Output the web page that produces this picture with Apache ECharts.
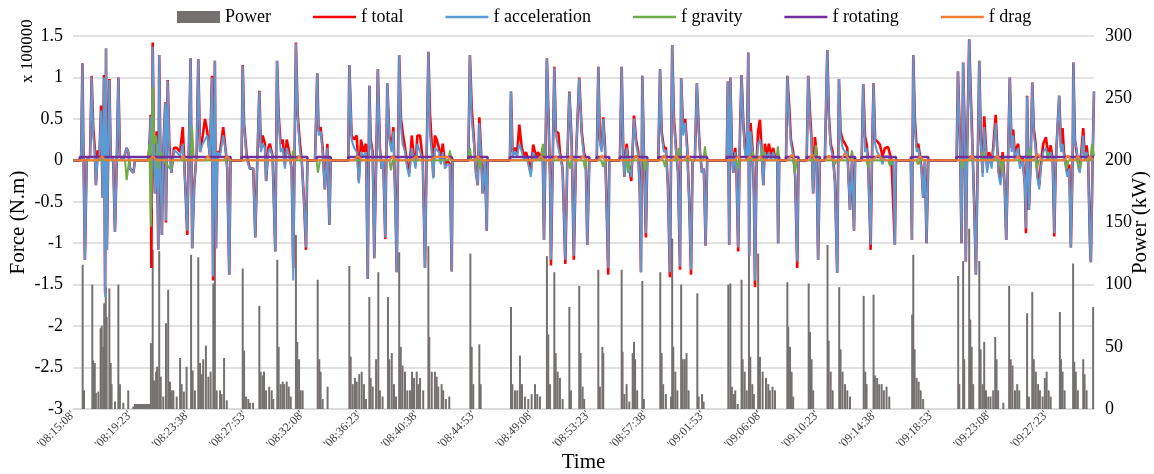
<!DOCTYPE html>
<html><head><meta charset="utf-8">
<script src="https://cdn.jsdelivr.net/npm/echarts@6/dist/echarts.min.js"></script>
<style>html,body{margin:0;padding:0;background:#fff}#c{width:1154px;height:474px}</style>
</head><body><div id="c"></div>
<script>
// time in seconds since 08:15:08
const xLabels = ["'08:15:08'","'08:19:23'","'08:23:38'","'08:27:53'","'08:32:08'","'08:36:23'","'08:40:38'","'08:44:53'","'08:49:08'","'08:53:23'","'08:57:38'","'09:01:53'","'09:06:08'","'09:10:23'","'09:14:38'","'09:18:53'","'09:23:08'","'09:27:23'"];
const legendNames = ['Power','f total','f acceleration','f gravity','f rotating','f drag'];

// Power (kW)
const power = [[43,116],[49,15],[86,100],[90,39],[97,37],[102,13],[113,14],[123,65],[128,67],[135,50],[139,85],[146,98],[150,74],[162,97],[168,37],[172,20],[187,6],[202,100],[209,20],[224,5],[246,15],[269,2],
[276,4],[280,4],[284,4],[288,4],[292,4],[296,4],[300,4],[304,4],[308,4],[312,4],[316,4],[320,4],[324,4],[328,4],[332,4],[336,4],[340,4],
[347,53],[355,128],[361,23],[370,30],[375,34],[384,127],[391,26],[402,10],[414,69],[424,96],[432,22],[440,15],[447,15],[462,10],[477,41],[484,20],[494,14],[506,34],[526,124],[533,31],[543,15],[558,122],[566,37],[573,28],[580,40],[592,51],[603,26],[613,30],[625,101],[632,130],[640,15],[655,15],[662,12],[673,41],[685,7],
[756,113],[762,47],[771,10],[781,8],[788,5],[802,5],[830,83],[836,30],[845,27],[851,30],[860,15],[874,18],[885,15],[892,8],[910,120],[916,50],[925,20],[934,22],[941,20],[952,22],[961,18],[970,10],[993,140],[999,54],[1007,40],[1014,15],[1023,15],
[1090,104],[1097,40],[1103,30],[1112,8],[1134,18],
[1231,115],[1237,42],[1246,20],[1256,25],[1264,22],[1275,28],[1286,30],[1296,20],[1305,8],[1320,90],[1326,25],[1335,18],[1350,40],[1360,110],[1367,15],[1379,10],[1403,90],[1409,40],[1420,45],[1430,20],[1439,10],[1453,126],[1460,50],[1468,35],[1479,30],[1489,15],[1501,15],[1510,30],[1519,25],[1531,30],[1538,20],[1546,25],[1560,15],
[1583,131],[1587,58],[1598,30],[1612,30],[1620,26],[1627,18],[1642,20],[1649,15],[1661,8],[1676,10],
[1770,125],[1776,50],[1783,20],[1810,52],[1816,20],
[1951,82],[1957,20],[1969,15],[1979,15],[1991,43],[2000,20],[2013,10],[2028,8],[2043,12],[2058,20],[2068,12],[2080,10],[2111,123],[2117,60],[2125,20],[2144,110],[2150,45],[2159,30],[2169,25],[2181,8],[2211,82],[2218,15],[2255,99],[2261,45],[2270,18],[2277,8],
[2340,112],[2347,18],[2358,50],[2362,45],
[2444,112],[2448,46],[2456,12],[2466,20],[2478,6],[2493,45],[2499,54],[2504,40],[2513,15],[2536,103],[2543,8],
[2616,110],[2622,45],[2629,20],[2641,12],[2664,10],[2669,137],[2674,50],[2683,30],[2692,15],[2709,100],[2716,40],[2725,40],[2733,45],[2742,15],[2781,93],[2787,10],[2802,12],[2809,6],
[2919,100],[2928,101],[2935,18],[2944,12],[2950,15],[2961,4],[2978,104],[2983,40],[2992,30],[3001,15],[3011,125],[3017,42],[3026,20],[3033,12],[3052,125],[3060,42],[3072,30],[3087,25],[3097,20],[3104,15],[3116,18],[3127,15],
[3182,102],[3186,66],[3194,50],[3201,30],[3208,10],[3277,101],[3283,62],[3290,40],[3297,15],[3361,132],[3366,55],[3375,30],[3384,15],[3413,98],[3419,48],[3428,30],[3439,20],[3449,15],[3461,10],[3522,91],[3529,30],[3535,20],[3566,92],[3572,27],[3582,25],[3591,20],[3602,20],[3612,15],[3624,18],[3636,10],
[3738,76],[3743,124],[3749,48],[3758,25],[3767,22],[3776,15],[3787,8],
[3943,107],[3948,20],[3965,119],[3970,40],[3992,145],[3997,72],[4003,50],[4010,20],[4037,119],[4043,48],[4052,20],[4059,54],[4067,15],[4077,10],[4087,10],[4099,15],[4108,58],[4114,40],[4121,15],[4144,5],[4170,99],[4177,40],[4185,35],[4196,15],[4206,20],[4215,15],[4250,77],[4258,10],[4273,94],[4280,40],[4289,30],[4299,20],[4307,15],[4319,10],[4329,25],[4337,30],[4346,15],[4355,10],[4396,78],[4401,40],[4408,30],[4417,15],[4455,117],[4460,38],[4467,30],[4476,15],[4500,40],[4506,28],[4515,15],[4544,82]];

// f total (x 100000 N.m)
const fTotal = [[0,0],[36,0],[42,1.17],[46,0.25],[53,-1.2],[61,0],[76,0.05],[83,1.02],[90,0.4],[97,0.15],[102,-0.3],[110,0.12],[117,0],[125,0.66],[129,0],[132,-0.45],[138,1.03],[143,-1.6],[147,1.35],[151,-1.08],[157,0.1],[162,0.98],[168,0.05],[179,0],[187,-0.86],[195,0],[202,1.0],[209,0.05],[224,0],[239,0.15],[246,0.1],[254,-0.1],[269,-0.15],[276,0],[335,0],[340,0.15],[346,0.55],[349,-1.3],[355,1.42],[361,0.1],[365,-0.4],[373,0.35],[380,-1.08],[384,1.27],[391,-0.3],[396,-0.9],[402,0.1],[411,0.7],[414,-0.75],[422,0.97],[429,0.2],[438,-0.15],[450,0.15],[462,0.15],[477,0.1],[489,0.4],[500,-0.3],[509,-0.9],[515,0],[524,1.23],[531,-1.06],[540,-0.3],[551,0.1],[558,1.22],[566,0.1],[578,0.3],[588,0.5],[598,0.35],[610,0.05],[619,1.02],[624,-1.45],[632,1.2],[637,-1.06],[643,0.1],[655,0.1],[669,0.4],[681,0.1],[687,-0.1],[696,-1.38],[702,0],[751,0],[756,1.15],[762,0.45],[774,0.05],[788,-0.1],[803,-0.1],[812,-0.93],[821,0],[830,0.84],[837,0.15],[845,0.3],[855,0.2],[860,-0.25],[870,0.15],[877,0.2],[889,0.05],[901,-1.1],[909,1.2],[916,0.55],[925,0.2],[934,0.25],[944,-0.05],[952,0.25],[963,0.1],[974,-0.1],[981,-1.3],[993,1.42],[1001,0.55],[1011,0.2],[1019,0],[1029,-0.5],[1038,-1.08],[1044,0],[1078,0],[1088,1.05],[1094,0.35],[1103,0.4],[1112,0.15],[1122,-0.35],[1133,0.2],[1142,-0.78],[1148,0],[1226,0],[1231,1.15],[1241,0.3],[1252,0.25],[1264,0.3],[1273,-0.25],[1283,0.25],[1293,0.1],[1305,0.2],[1313,-1.43],[1320,0.9],[1326,0.25],[1335,0.1],[1342,-1.18],[1353,0.35],[1358,1.1],[1367,0.15],[1375,-0.1],[1382,0],[1391,-0.95],[1400,0.93],[1409,0.3],[1419,0.15],[1427,0.4],[1436,-0.5],[1442,-1.35],[1453,1.27],[1461,0.5],[1468,0.35],[1479,0.15],[1489,-0.05],[1498,-0.15],[1509,0.3],[1516,0.1],[1526,-0.05],[1534,0.3],[1546,0.3],[1558,0],[1568,-1.3],[1575,0],[1583,1.31],[1590,0.57],[1598,0.2],[1605,-0.2],[1612,0.3],[1620,0.25],[1630,0.15],[1638,0],[1647,0.2],[1657,-0.05],[1667,0],[1679,-0.05],[1687,-1.34],[1691,0],[1761,0],[1768,1.27],[1776,0.64],[1786,0.25],[1795,-0.15],[1803,-0.3],[1810,0.52],[1817,0.15],[1825,-0.4],[1835,0],[1843,-0.85],[1847,0],[1946,0],[1951,0.83],[1958,0.1],[1969,0.15],[1979,0.1],[1988,0.43],[1999,0.15],[2009,0.05],[2018,0.1],[2028,0],[2039,-0.15],[2050,0.19],[2062,0.05],[2072,0.1],[2083,0],[2092,0.15],[2098,-0.96],[2104,0],[2111,1.23],[2119,0.45],[2125,-0.2],[2129,-1.27],[2137,0],[2144,1.13],[2151,0.35],[2162,0.33],[2169,0.1],[2181,-0.1],[2193,-1.25],[2202,0],[2211,0.83],[2221,0.25],[2231,-1.2],[2240,0],[2255,1.0],[2266,0.35],[2276,0.1],[2284,0],[2291,-1.02],[2300,0],[2333,0],[2340,1.13],[2347,0.25],[2355,0.15],[2362,0.52],[2370,0.15],[2377,-0.55],[2384,-1.38],[2389,0],[2436,0],[2444,1.13],[2451,0.15],[2456,-0.2],[2466,0.2],[2478,-0.1],[2487,-0.25],[2499,0.54],[2508,0.25],[2518,0.1],[2525,-0.4],[2530,-1.35],[2536,1.02],[2543,0.1],[2552,-0.93],[2558,0],[2607,0],[2615,1.1],[2622,0.35],[2632,0.15],[2641,0.15],[2650,-0.3],[2659,-1.41],[2669,1.39],[2677,0.51],[2686,0.15],[2695,-0.15],[2704,-1.32],[2709,0.99],[2718,0.35],[2727,0.5],[2736,0.15],[2745,-0.5],[2753,-1.38],[2760,0],[2770,0],[2779,0.93],[2787,0.4],[2793,0.1],[2802,-0.15],[2810,-0.1],[2818,-1.03],[2825,0],[2912,0],[2917,0.95],[2923,-1.02],[2928,1.0],[2935,0.15],[2941,-0.15],[2950,0.15],[2956,-0.2],[2963,-1.1],[2971,0.35],[2978,1.03],[2986,0.45],[2993,0.15],[3001,0],[3008,1.3],[3012,-1.15],[3018,0.45],[3027,0.15],[3033,-0.4],[3038,-1.53],[3045,0],[3052,0.35],[3060,0.49],[3067,0.15],[3075,-0.3],[3082,0.2],[3090,0.05],[3100,0.2],[3109,0.05],[3119,0.15],[3130,0],[3137,0.05],[3141,-1.0],[3146,0],[3176,0],[3182,1.02],[3190,0.66],[3198,0.25],[3208,0.1],[3217,-0.2],[3226,-1.3],[3232,0],[3268,0],[3275,1.02],[3283,0.57],[3290,0.25],[3297,-0.4],[3305,0.28],[3312,0.1],[3319,-1.2],[3327,0],[3349,0],[3360,1.33],[3367,0.55],[3375,0.2],[3384,0.1],[3394,-0.25],[3404,-1.36],[3412,0.98],[3419,0.35],[3428,0.25],[3439,0.2],[3449,0.15],[3461,-0.6],[3470,0],[3479,-0.85],[3484,0],[3513,0],[3520,0.92],[3528,0.29],[3535,0.2],[3542,0],[3553,-1.08],[3559,0],[3566,0.93],[3573,0.25],[3582,0.23],[3594,0.19],[3606,0.05],[3617,0.15],[3631,0.16],[3646,0],[3654,0],[3661,-1.02],[3666,0],[3732,0],[3737,-0.96],[3743,1.27],[3750,0.5],[3758,0.15],[3765,0.2],[3773,0.05],[3780,-0.1],[3787,-0.45],[3795,0],[3802,-1.0],[3810,0],[3936,0],[3942,1.07],[3951,0.25],[3958,-1.0],[3965,1.18],[3972,0.35],[3977,-1.22],[3983,0.15],[3992,1.46],[4000,0.72],[4007,0.15],[4014,-0.5],[4022,-1.38],[4030,0],[4037,1.2],[4044,0.25],[4052,-0.15],[4059,0.53],[4067,0.15],[4072,-0.1],[4081,0.1],[4092,-0.05],[4099,0.15],[4110,0.55],[4117,0.15],[4124,-0.15],[4132,-0.25],[4141,0.1],[4150,-0.3],[4157,-0.96],[4165,0],[4173,1.0],[4181,0.15],[4188,0.37],[4196,0.05],[4203,0.15],[4210,0.2],[4218,-0.05],[4230,0.05],[4240,-0.3],[4245,-0.88],[4250,0.78],[4258,-0.6],[4266,0],[4273,0.94],[4280,0.37],[4288,0.2],[4295,-0.15],[4304,-0.3],[4311,-0.05],[4322,0.2],[4334,0.28],[4344,0.05],[4355,0.18],[4364,0],[4371,-0.92],[4378,0],[4393,0.78],[4401,0.15],[4408,0.39],[4414,0.1],[4423,-0.05],[4429,-0.15],[4438,-0.05],[4445,-1.05],[4453,0],[4456,1.18],[4463,0.25],[4471,0.25],[4478,-0.05],[4485,-0.1],[4493,0.15],[4500,0.39],[4507,0.05],[4515,0.18],[4522,0],[4530,-1.0],[4534,-1.23],[4542,0],[4548,0.83]];

// f acceleration
const fAcc = [[0,0],[36,0],[42,1.17],[46,0.2],[53,-1.2],[61,0],[76,0.05],[83,1.01],[90,0.3],[97,0.1],[102,-0.3],[110,0.05],[117,0],[125,0.6],[129,0],[132,-0.45],[138,1.0],[143,-1.65],[147,1.35],[151,-1.08],[157,0.1],[162,0.97],[168,0.05],[179,0],[187,-0.86],[195,0],[202,1.0],[209,0.05],[224,0],[239,0.15],[246,0.1],[254,-0.1],[269,-0.15],[276,0],[335,0],[340,0.1],[346,0.53],[349,-0.6],[355,1.37],[361,0.1],[365,-0.4],[373,0.2],[380,-1.08],[384,1.27],[391,-0.3],[396,-0.9],[402,0.1],[411,0.69],[414,-0.73],[422,0.96],[429,0.1],[438,-0.15],[450,0.12],[462,0.1],[477,0.05],[489,0.2],[500,-0.3],[509,-0.85],[515,0],[524,1.23],[531,-1.06],[540,-0.3],[551,0.1],[558,1.22],[566,0.1],[578,0.2],[588,0.25],[598,0.3],[610,0.05],[619,1.0],[624,-1.4],[632,1.2],[637,-1.06],[643,0.1],[655,0.05],[669,0.3],[681,0.1],[687,-0.1],[696,-1.38],[702,0],[751,0],[756,1.14],[762,0.4],[774,0],[788,-0.1],[803,-0.1],[812,-0.93],[821,0],[830,0.83],[837,0.1],[845,0.2],[855,0.15],[860,-0.25],[870,0.1],[877,0.15],[889,0.05],[901,-1.1],[909,1.2],[916,0.5],[925,0.1],[934,0.15],[944,-0.1],[952,0.15],[963,0.05],[974,-0.1],[981,-1.45],[993,1.41],[1001,0.5],[1011,0.1],[1019,0],[1029,-0.5],[1038,-1.05],[1044,0],[1078,0],[1088,1.05],[1094,0.3],[1103,0.35],[1112,0.1],[1122,-0.35],[1133,0.15],[1142,-0.78],[1148,0],[1226,0],[1231,1.15],[1241,0.25],[1252,0.15],[1264,0.1],[1273,-0.28],[1283,0.1],[1293,0.05],[1305,0.1],[1313,-1.43],[1320,0.9],[1326,0.2],[1335,0.05],[1342,-1.18],[1353,0.3],[1358,1.1],[1367,0.1],[1375,-0.1],[1382,0],[1391,-0.93],[1400,0.93],[1409,0.25],[1419,0.1],[1427,0.35],[1436,-0.5],[1442,-1.35],[1453,1.27],[1461,0.4],[1468,0.2],[1479,0.1],[1489,-0.1],[1498,-0.2],[1509,0.15],[1516,0.05],[1526,-0.1],[1534,0.2],[1546,0.1],[1558,0],[1568,-1.3],[1575,0],[1583,1.31],[1590,0.3],[1598,0.1],[1605,-0.22],[1612,0.15],[1620,0.15],[1630,0.1],[1638,-0.05],[1647,0.1],[1657,-0.1],[1667,-0.05],[1679,-0.05],[1687,-1.34],[1691,0],[1761,0],[1768,1.27],[1776,0.5],[1786,0.2],[1795,-0.15],[1803,-0.3],[1810,0.45],[1817,0.1],[1825,-0.4],[1835,0],[1843,-0.85],[1847,0],[1946,0],[1951,0.83],[1958,0.05],[1969,0.1],[1979,0.05],[1988,0.2],[1999,0.1],[2009,0],[2018,0.05],[2028,-0.05],[2039,-0.2],[2050,0.1],[2062,0],[2072,0.05],[2083,0],[2092,0.12],[2098,-0.96],[2104,0],[2111,1.23],[2119,0.4],[2125,-0.2],[2129,-1.2],[2137,0],[2144,1.12],[2151,0.3],[2162,0.15],[2169,0.05],[2181,-0.1],[2193,-1.2],[2202,0],[2211,0.82],[2221,0.2],[2231,-1.15],[2240,0],[2255,0.99],[2266,0.3],[2276,0.05],[2284,0],[2291,-1.02],[2300,0],[2333,0],[2340,1.13],[2347,0.2],[2355,0.1],[2362,0.5],[2370,0.1],[2377,-0.55],[2384,-1.3],[2389,0],[2436,0],[2444,1.13],[2451,0.1],[2456,-0.2],[2466,0.15],[2478,-0.1],[2487,-0.2],[2499,0.5],[2508,0.2],[2518,0.05],[2525,-0.4],[2530,-1.35],[2536,1.02],[2543,0.1],[2552,-0.88],[2558,0],[2607,0],[2615,1.1],[2622,0.3],[2632,0.1],[2641,0.12],[2650,-0.3],[2659,-1.35],[2669,1.39],[2677,0.45],[2686,0.1],[2695,-0.15],[2704,-1.28],[2709,0.99],[2718,0.3],[2727,0.45],[2736,0.1],[2745,-0.5],[2753,-1.32],[2760,0],[2770,0],[2779,0.93],[2787,0.35],[2793,0.1],[2802,-0.15],[2810,-0.1],[2818,-1.03],[2825,0],[2912,0],[2917,0.95],[2923,-1.02],[2928,1.0],[2935,0.1],[2941,-0.15],[2950,0.1],[2956,-0.2],[2963,-1.05],[2971,0.3],[2978,1.03],[2986,0.4],[2993,0.1],[3001,0],[3008,1.3],[3012,-1.15],[3018,0.35],[3027,0.1],[3033,-0.4],[3038,-1.45],[3045,0],[3052,0.2],[3060,0.25],[3067,0.1],[3075,-0.3],[3082,0.1],[3090,0],[3100,0.1],[3109,0],[3119,0.1],[3130,0],[3137,0.05],[3141,-1.0],[3146,0],[3176,0],[3182,1.02],[3190,0.55],[3198,0.2],[3208,0.05],[3217,-0.2],[3226,-1.22],[3232,0],[3268,0],[3275,1.02],[3283,0.45],[3290,0.2],[3297,-0.4],[3305,0.1],[3312,0.05],[3319,-1.2],[3327,0],[3349,0],[3360,1.33],[3367,0.5],[3375,0.15],[3384,0.05],[3394,-0.25],[3404,-1.36],[3412,0.98],[3419,0.3],[3428,0.15],[3439,0.1],[3449,0.1],[3461,-0.6],[3470,0],[3479,-0.85],[3484,0],[3513,0],[3520,0.92],[3528,0.1],[3535,0.15],[3542,-0.05],[3553,-1.02],[3559,0],[3566,0.93],[3573,0.2],[3582,0.1],[3594,0.05],[3606,-0.05],[3617,0.05],[3631,0.05],[3646,-0.05],[3654,0],[3661,-1.02],[3666,0],[3732,0],[3737,-0.96],[3743,1.27],[3750,0.4],[3758,0.1],[3765,0.15],[3773,0],[3780,-0.1],[3787,-0.45],[3795,0],[3802,-1.0],[3810,0],[3936,0],[3942,1.07],[3951,0.2],[3958,-1.0],[3965,1.18],[3972,0.3],[3977,-1.22],[3983,0.1],[3992,1.46],[4000,0.6],[4007,0.1],[4014,-0.5],[4022,-1.38],[4030,0],[4037,1.2],[4044,0.2],[4052,-0.2],[4059,0.4],[4067,0.1],[4072,-0.15],[4081,0.05],[4092,-0.1],[4099,0.1],[4110,0.45],[4117,0.1],[4124,-0.2],[4132,-0.3],[4141,0],[4150,-0.3],[4157,-0.96],[4165,0],[4173,1.0],[4181,0.1],[4188,0.3],[4196,0],[4203,0.1],[4210,0.15],[4218,-0.1],[4230,0],[4240,-0.3],[4245,-0.82],[4250,0.77],[4258,-0.6],[4266,0],[4273,0.94],[4280,0.3],[4288,0.15],[4295,-0.2],[4304,-0.35],[4311,-0.1],[4322,0.1],[4334,0.15],[4344,0],[4355,0.1],[4364,0],[4371,-0.88],[4378,0],[4393,0.78],[4401,0.1],[4408,0.2],[4414,0.05],[4423,-0.1],[4429,-0.2],[4438,-0.1],[4445,-1.05],[4453,0],[4456,1.18],[4463,0.2],[4471,0.15],[4478,-0.1],[4485,-0.15],[4493,0.1],[4500,0.3],[4507,0],[4515,0.1],[4522,-0.05],[4530,-1.0],[4534,-1.23],[4542,0],[4548,0.83]];

// f gravity
const fGravity = [[0,0],[232,0],[239,-0.24],[250,0],[335,0],[340,0.2],[347,-0.8],[355,0.88],[361,0.2],[370,0.3],[379,-0.1],[392,0.1],[405,0],[432,-0.1],[445,0],[525,0],[530,0.42],[537,0.05],[560,0],[975,0],[980,0.12],[988,0],[1085,0],[1091,-0.15],[1100,0],[1410,0],[1416,-0.12],[1424,0],[1672,0],[1679,0.12],[1686,0],[1762,0],[1768,0.15],[1775,0],[1806,0],[1813,-0.1],[1820,0],[2086,0],[2093,0.2],[2100,0],[2207,0],[2214,-0.1],[2221,0],[2274,0],[2280,-0.1],[2287,0],[2354,0],[2361,-0.08],[2368,0],[2465,0],[2472,-0.15],[2480,0],[2541,0],[2548,-0.12],[2555,0],[2630,0],[2637,-0.08],[2645,0],[2692,0],[2699,0.15],[2707,0],[2808,0],[2815,0.17],[2822,0],[2955,0],[2962,-0.1],[2969,0],[3022,0],[3029,0.1],[3036,0],[3066,0],[3073,0.15],[3080,0],[3133,0],[3140,0.17],[3146,0],[3209,0],[3216,-0.15],[3224,0],[3302,0],[3309,0.18],[3316,0],[3387,0],[3394,-0.05],[3401,0],[3463,0],[3470,0.12],[3477,0],[3534,0],[3541,-0.08],[3548,0],[3632,0],[3639,-0.07],[3646,0],[3757,0],[3764,-0.05],[3771,0],[3957,0],[3964,-0.1],[3971,0],[4046,0],[4053,0.1],[4060,0],[4131,0],[4138,-0.15],[4145,0],[4256,0],[4263,0.15],[4270,0],[4287,0],[4294,-0.1],[4301,0],[4336,0],[4343,0.1],[4350,0],[4420,0],[4427,-0.1],[4434,0],[4478,0],[4485,-0.1],[4492,0],[4532,0],[4539,0.2],[4548,0.05]];

// f rotating
const fRotating = [[0,0],[30,0],[30,0.04],[702,0.04],[702,0],[751,0],[751,0.04],[1044,0.04],[1044,0],[1085,0],[1085,0.04],[1148,0.04],[1148,0],[1226,0],[1226,0.04],[1687,0.04],[1691,0],[1761,0],[1761,0.04],[1847,0.04],[1847,0],[1946,0],[1946,0.04],[2300,0.04],[2300,0],[2333,0],[2333,0.04],[2389,0.04],[2389,0],[2436,0],[2436,0.04],[2558,0.04],[2558,0],[2607,0],[2607,0.04],[2825,0.04],[2825,0],[2912,0],[2912,0.04],[3146,0.04],[3146,0],[3176,0],[3176,0.04],[3232,0.04],[3232,0],[3268,0],[3268,0.04],[3327,0.04],[3327,0],[3349,0],[3349,0.04],[3484,0.04],[3484,0],[3513,0],[3513,0.04],[3666,0.04],[3666,0],[3732,0],[3732,0.04],[3810,0.04],[3810,0],[3936,0],[3936,0.04],[4548,0.04]];

// f drag
const fDrag = [[0,0],[114,0],[129,0.05],[144,0],[341,0],[356,0.05],[371,0],[475,0],[490,0.05],[505,0],[586,0],[601,0.05],[616,0],[671,0],[686,0.05],[701,0],[992,0],[1007,0.05],[1022,0],[1250,0],[1269,0.05],[1290,0],[1410,0],[1425,0.05],[1440,0],[1510,0],[1528,0.05],[1546,0],[1590,0],[1610,0.04],[1670,0.04],[1687,0],[1789,0],[1804,0.05],[1819,0],[2069,0],[2084,0.05],[2099,0],[2136,0],[2151,0.05],[2166,0],[2203,0],[2218,0.05],[2233,0],[2256,0],[2271,0.05],[2286,0],[2341,0],[2356,0.06],[2371,0],[2493,0],[2508,0.06],[2523,0],[2617,0],[2632,0.06],[2647,0],[2671,0],[2686,0.06],[2701,0],[2724,0],[2739,0.06],[2754,0],[2947,0],[2962,0.05],[2977,0],[3000,0],[3015,0.05],[3030,0],[3045,0],[3060,0.05],[3075,0],[3187,0],[3202,0.07],[3217,0],[3277,0],[3292,0.07],[3307,0],[3352,0],[3367,0.06],[3382,0],[3420,0],[3439,0.09],[3458,0],[3560,0],[3586,0.06],[3612,0],[3758,0],[3773,0.05],[3788,0],[3989,0],[4004,0.06],[4019,0],[4101,0],[4116,0.06],[4131,0],[4194,0],[4209,0.05],[4224,0],[4280,0],[4298,0.08],[4316,0],[4417,0],[4432,0.06],[4447,0],[4461,0],[4476,0.05],[4491,0],[4515,0],[4530,0.05],[4545,0],[4548,0]];

const FONT = 'Liberation Serif, Times New Roman, serif';
const LINE_ICON = 'path://M0,0H43V2.4H0Z';
const chart = echarts.init(document.getElementById('c'), null, {renderer:'canvas'});
const lineS = (name, data, color, w) => ({
  name, type:'line', data, yAxisIndex:0, symbol:'none', showSymbol:false,
  lineStyle:{color, width:w}, itemStyle:{color}, animation:false
});
chart.setOption({
  animation:false,
  backgroundColor:'#fff',
  textStyle:{fontFamily:FONT},
  legend:{
    top:3, left:172, itemGap:42, itemWidth:43, itemHeight:12, symbolKeepAspect:true,
    textStyle:{fontFamily:FONT, fontSize:18, color:'#000'},
    data:[{name:legendNames[0], icon:'rect'},
      {name:legendNames[1], icon:LINE_ICON},{name:legendNames[2], icon:LINE_ICON},
      {name:legendNames[3], icon:LINE_ICON},{name:legendNames[4], icon:LINE_ICON},
      {name:legendNames[5], icon:LINE_ICON}]
  },
  grid:{left:73, right:60, top:36, bottom:65, outerBoundsMode:'none', containLabel:false},
  graphic:[{type:'text', x:28, y:51, rotation:Math.PI/2,
    style:{text:'x 100000', font:'17px '+FONT, fill:'#000', textAlign:'center', textVerticalAlign:'middle'}}],
  xAxis:{
    type:'value', min:0, max:4548, interval:255,
    name:'Time', nameLocation:'middle', nameGap:43, nameMoveOverlap:false,
    nameTextStyle:{fontFamily:FONT, fontSize:21, color:'#000'},
    axisLine:{onZero:false, lineStyle:{color:'#D9D9D9', width:1.5}},
    axisTick:{show:false}, splitLine:{show:false},
    axisLabel:{rotate:45, margin:4, fontSize:12, color:'#404040', fontFamily:FONT, showMaxLabel:true,
      formatter:v => (v % 255 === 0 && xLabels[v/255] !== undefined) ? xLabels[v/255] : ''}
  },
  yAxis:[{
    type:'value', min:-3, max:1.5, interval:0.5,
    name:'Force (N.m)', nameLocation:'middle', nameRotate:90, nameGap:44, nameMoveOverlap:false,
    nameTextStyle:{fontFamily:FONT, fontSize:21, color:'#000'},
    axisLine:{show:false}, axisTick:{show:false},
    axisLabel:{fontSize:18, color:'#000', fontFamily:FONT, margin:10},
    splitLine:{lineStyle:{color:'#D9D9D9', width:1.5}}
  },{
    type:'value', min:0, max:300, interval:50, position:'right',
    name:'Power (kW)', nameLocation:'middle', nameRotate:90, nameGap:36, nameMoveOverlap:false,
    nameTextStyle:{fontFamily:FONT, fontSize:21, color:'#000'},
    axisLine:{show:false}, axisTick:{show:false},
    axisLabel:{fontSize:18, color:'#000', fontFamily:FONT, margin:11},
    splitLine:{show:false}
  }],
  series:[
    {name:'Power', type:'bar', yAxisIndex:1, data:power, barWidth:2, itemStyle:{color:'#767171'}, animation:false},
    lineS('f total', fTotal, '#FF0000', 2.6),
    lineS('f acceleration', fAcc, '#5B9BD5', 2),
    lineS('f gravity', fGravity, '#70AD47', 2),
    lineS('f rotating', fRotating, '#7030A0', 2.5),
    lineS('f drag', fDrag, '#ED7D31', 2)
  ]
});
</script></body></html>
